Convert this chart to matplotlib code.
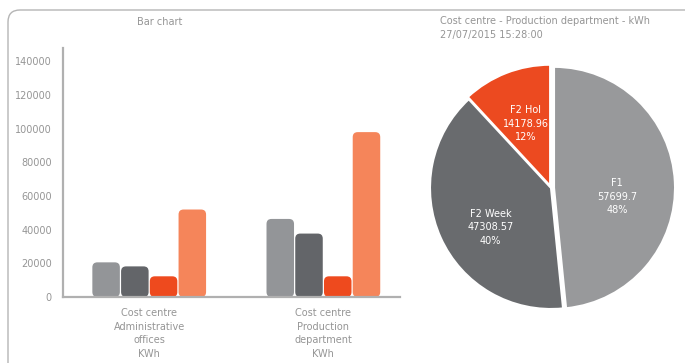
import matplotlib
matplotlib.use("Agg")
import matplotlib.pyplot as plt
from matplotlib.patches import FancyBboxPatch

# ---------------- data ----------------
categories = ["Cost centre\nAdministrative\noffices\nKWh",
              "Cost centre\nProduction\ndepartment\nKWh"]
series_names = ["F1", "F2 Week", "F2 Hol", "Total"]
s_f1 = [20600, 46400]
s_f2week = [18200, 37700]
s_f2hol = [12300, 12300]
s_total = [52000, 98000]
yticks = [0, 20000, 40000, 60000, 80000, 100000, 120000, 140000]

pie_labels = ["F1", "F2 Week", "F2 Hol"]
pie_values = [57699.7, 47308.57, 14178.96]
pie_value_text = ["57699.7", "47308.57", "14178.96"]
pie_title = "Cost centre - Production department - kWh\n27/07/2015 15:28:00"

bar_colors = ["#939598", "#636569", "#ee4a1e", "#f5855a"]
pie_colors = ["#98999b", "#696b6e", "#ec4a20"]
text_gray = "#959595"

plt.rcParams["font.family"] = ["DejaVu Sans"]

W, H = 685, 363
fig = plt.figure(figsize=(W / 100, H / 100), dpi=100)
fig.patch.set_facecolor("white")

# outer rounded frame
frame = FancyBboxPatch((8 / W, -0.2), 1.2, 1 - 10 / H + 0.2,
                       boxstyle=f"round,pad=0,rounding_size={12 / W}",
                       mutation_aspect=W / H,
                       transform=fig.transFigure, fill=False,
                       edgecolor="#b5b5b5", linewidth=1.0, clip_on=False)
fig.patches.append(frame)

# ---------------- bar chart ----------------
ax_l, ax_r, ax_b, ax_t = 63, 400, 297, 48
ax = fig.add_axes([ax_l / W, 1 - ax_b / H, (ax_r - ax_l) / W, (ax_b - ax_t) / H])
ax.set_xlim(-0.495, 1.44)
ax.set_ylim(0, 148000)

series = [s_f1, s_f2week, s_f2hol, s_total]
step, width = 0.165, 0.158
x = list(range(len(categories)))
fig.canvas.draw()
p0 = ax.transData.transform((0, 0))
p1 = ax.transData.transform((1, 1))
xpx = p1[0] - p0[0]
ypx = p1[1] - p0[1]
aspect = xpx / ypx
rad = 5 / xpx
for i, (vals, col) in enumerate(zip(series, bar_colors)):
    offs = (i - 1.5) * step
    bars = ax.bar([xi + offs for xi in x], vals, width=width, color=col,
                  label=series_names[i])
    for b in bars:
        b.set_visible(False)
        fb = FancyBboxPatch((b.get_x(), b.get_y()), b.get_width(), b.get_height(),
                            boxstyle=f"round,pad=0,rounding_size={rad}",
                            mutation_aspect=aspect, facecolor=col,
                            edgecolor="none")
        ax.add_patch(fb)

ax.set_yticks(yticks)
ax.set_yticklabels([str(v) for v in yticks], color=text_gray, fontsize=7)
ax.set_xticks(x)
ax.set_xticklabels(categories, color=text_gray, fontsize=7, linespacing=1.45)
ax.tick_params(axis="both", length=0)
ax.tick_params(axis="y", pad=8)
ax.tick_params(axis="x", pad=8)
for s in ["top", "right"]:
    ax.spines[s].set_visible(False)
for s in ["left", "bottom"]:
    ax.spines[s].set_color("#b0b0b0")
    ax.spines[s].set_linewidth(1.6)
ax.set_facecolor("none")
fig.text(160 / W, 1 - 22 / H, "Bar chart", ha="center", va="center",
         color=text_gray, fontsize=7)

# ---------------- pie chart ----------------
cx, cy, R = 551, 188, 121
half = 1.1 * R
pax = fig.add_axes([(cx - half) / W, 1 - (cy + half) / H, 2 * half / W, 2 * half / H])
total = sum(pie_values)
labels = [f"{n}\n{t}\n{v / total * 100:.0f}%"
          for n, t, v in zip(pie_labels, pie_value_text, pie_values)]
wedges, texts = pax.pie(pie_values, colors=pie_colors, startangle=90,
                        counterclock=False, explode=[0.025, 0, 0.02],
                        labels=labels, labeldistance=0.55,
                        wedgeprops=dict(edgecolor="white", linewidth=1.5))
label_nudge = [(-0.03, -0.1), (0.0, -0.1), (0.0, 0.0)]
for t, (dx, dy) in zip(texts, label_nudge):
    t.set_color("white")
    t.set_fontsize(7)
    t.set_ha("center")
    t.set_va("center")
    t.set_linespacing(1.45)
    px, py = t.get_position()
    t.set_position((px + dx, py + dy))
pax.set_xlim(-1.1, 1.1)
pax.set_ylim(-1.1, 1.1)
pax.set_aspect("equal")
fig.text(440 / W, 1 - 28 / H, pie_title, ha="left", va="center",
         color=text_gray, fontsize=7, linespacing=1.6)

fig.savefig("out.png", dpi=100, facecolor="white")
